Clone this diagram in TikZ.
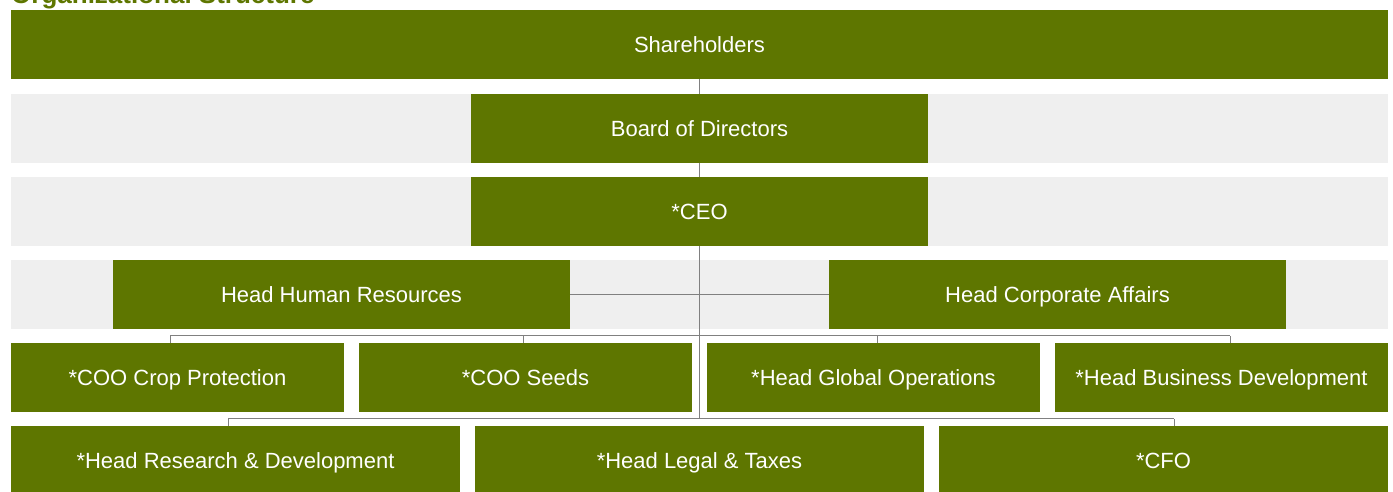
\documentclass[tikz,border=0pt]{standalone}
\usepackage{fontspec}
\setmainfont{Liberation Sans}
\usepackage{tikz}
\usetikzlibrary{calc}
\definecolor{leaf}{RGB}{94,118,0}
\definecolor{bandgray}{RGB}{239,239,239}
\definecolor{linkgray}{RGB}{128,128,128}
\tikzset{
  orgbox/.style={fill=leaf, text=white, inner sep=0pt, minimum height=69pt,
    text height=17pt, text depth=2pt, font=\fontsize{22}{26}\selectfont},
  link/.style={draw=linkgray, line width=1pt}
}
\newcommand{\band}[2]{ \fill[bandgray] (11,#1) rectangle (1388,#2);}

\begin{document}
\begin{tikzpicture}[x=1pt,y=-1pt]
  \useasboundingbox (0,0) rectangle (1393,491);
  \node[anchor=base west, text=leaf, inner sep=0pt, font=\bfseries\fontsize{26}{30}\selectfont] (title) at (11,3) {Organizational Structure};

  \node[orgbox, minimum width=1377pt] (share) at (699.5,44.5) {Shareholders};
  \band{94}{163}
  \node[orgbox, minimum width=457pt] (board) at (699.5,128.5) {Board of Directors};
  \band{177}{246}
  \node[orgbox, minimum width=457pt] (ceo) at (699.5,211.5) {*CEO};
  \band{260}{329}
  \node[orgbox, minimum width=457pt] (hr) at (341.5,294.5) {Head Human Resources};
  \node[orgbox, minimum width=457pt] (corp) at (1057.5,294.5) {Head Corporate Affairs};

  % operations row
  \node[orgbox, minimum width=333pt] (crop) at (177.5,377.5) {*COO Crop Protection};
  \node[orgbox, minimum width=333pt] (seeds) at (525.5,377.5) {*COO Seeds};
  \node[orgbox, minimum width=333pt] (glob) at (873.5,377.5) {*Head Global Operations};
  \node[orgbox, minimum width=333pt] (busdev) at (1221.5,377.5) {*Head Business Development};

  % functions row
  \node[orgbox, minimum width=449pt] (rnd) at (235.5,460.5) {*Head Research \& Development};
  \node[orgbox, minimum width=449pt] (legal) at (699.5,460.5) {*Head Legal \& Taxes};
  \node[orgbox, minimum width=449pt] (cfo) at (1163.5,460.5) {*CFO};

  \draw[link] (share) -- (board);
  \draw[link] (board) -- (ceo);
  \draw[link] (hr) -- (corp);
  \foreach \n/\d in {crop/-7.5,seeds/-2.5,glob/3.5,busdev/8.5}
    \draw[link] ($(\n.north)+(\d,0)$) -- ++(0,-7) coordinate (t\n);
  \draw[link] (tcrop) -- (tbusdev);
  \foreach \n/\d in {rnd/-7.5,cfo/10.5}
    \draw[link] ($(\n.north)+(\d,0)$) -- ++(0,-7) coordinate (t\n);
  \draw[link] (trnd) -- (tcfo);
  \draw[link] (ceo.south) -- (ceo.south |- trnd);
\end{tikzpicture}
\end{document}
